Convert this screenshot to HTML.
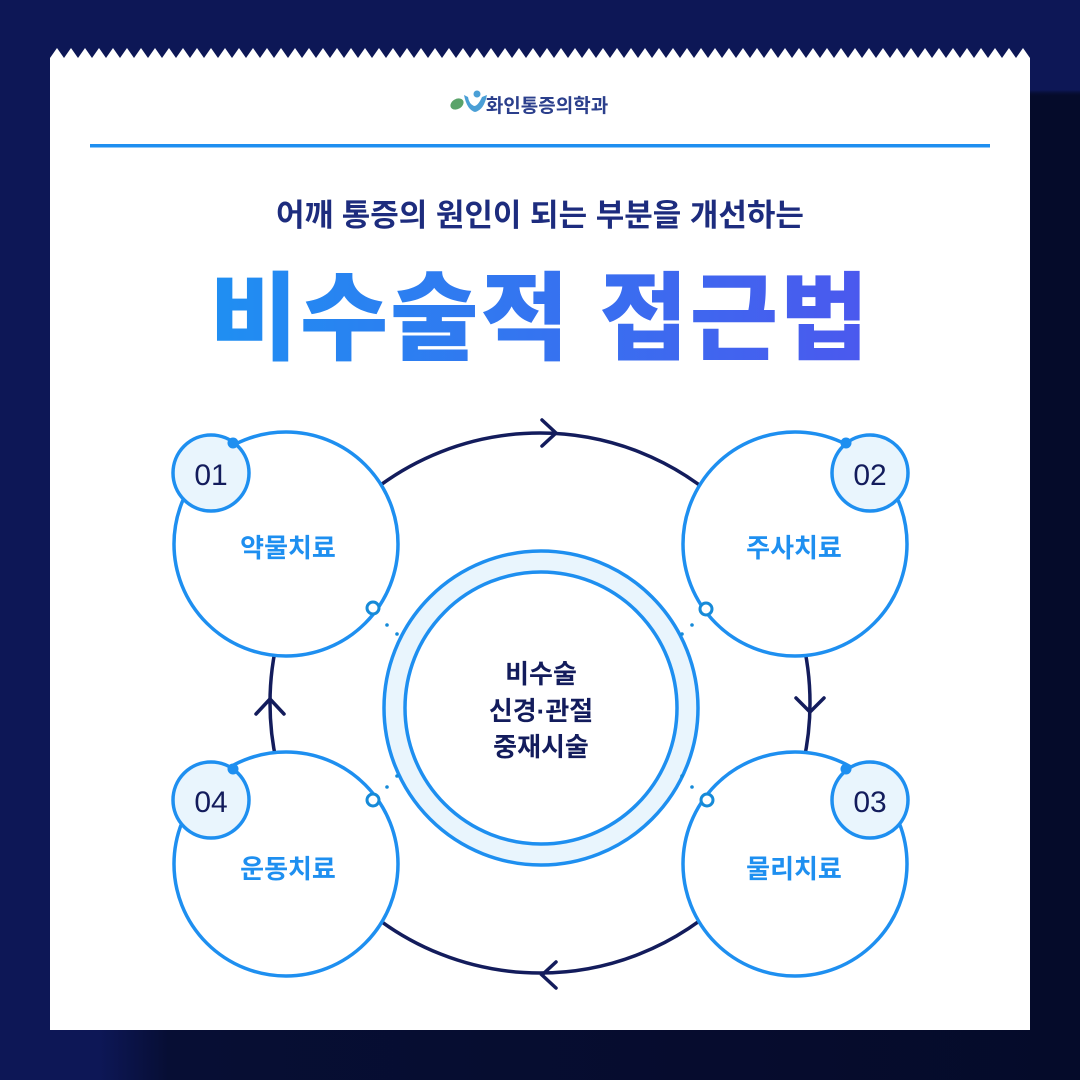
<!DOCTYPE html>
<html><head><meta charset="utf-8"><style>
html,body{margin:0;padding:0}
body{width:1080px;height:1080px;overflow:hidden;background:#0d1756;position:relative;font-family:"Liberation Sans","Noto Sans CJK KR",sans-serif}
svg{position:absolute;left:0;top:0}
</style></head><body>
<svg width="1080" height="1080" viewBox="0 0 1080 1080">
<defs>
<linearGradient id="g" x1="0" x2="1"><stop offset="0" stop-color="#1f8ff2"/><stop offset="1" stop-color="#4b58ee"/></linearGradient>
<linearGradient id="sh" x1="0" x2="1"><stop offset="0" stop-color="#0d1756"/><stop offset="0.07" stop-color="#070e34"/><stop offset="1" stop-color="#050b2a"/></linearGradient>
<linearGradient id="shv" x1="0" y1="0" x2="0" y2="1"><stop offset="0" stop-color="#0d1756"/><stop offset="0.06" stop-color="#070e34" stop-opacity="0"/></linearGradient>
<pattern id="zz" x="50" y="48" width="14" height="10" patternUnits="userSpaceOnUse"><path d="M0 10 L7 0 L14 10 Z" fill="#fff"/></pattern>
</defs>
<rect x="100" y="90" width="980" height="990" fill="url(#sh)"/>
<rect x="100" y="90" width="980" height="100" fill="url(#shv)"/>
<rect x="50" y="58" width="980" height="972" fill="#fff"/>
<rect x="50" y="48" width="980" height="10.5" fill="url(#zz)"/>
<rect x="90" y="144" width="900" height="3.5" fill="#1e8ff0"/>
<!-- logo -->
<ellipse cx="457" cy="104" rx="7" ry="5" fill="#5aa36a" transform="rotate(-30 457 104)"/>
<path d="M464 95 Q467 110 475 112 Q484 110 487 95 L482 97 Q478 106 474 106 Q469 104 468 97 Z" fill="#4a9fd6"/>
<circle cx="477" cy="94" r="3.5" fill="#4a9fd6"/>
<!-- big cycle -->
<circle cx="540" cy="703" r="270" fill="none" stroke="#131c5c" stroke-width="3.5"/>
<g fill="none" stroke="#131c5c" stroke-width="3.5" stroke-linecap="round">
<path d="M542 420 L556 433 L542 446"/>
<path d="M796 698 L810 712 L824 698"/>
<path d="M556 962 L542 975 L556 988"/>
<path d="M256 714 L270 699 L284 714"/>
</g>
<g fill="#fff" stroke="#1e8ff0" stroke-width="3.5">
<circle cx="286" cy="544" r="112"/>
<circle cx="795" cy="544" r="112"/>
<circle cx="795" cy="864" r="112"/>
<circle cx="286" cy="864" r="112"/>
</g>
<g fill="#e9f5fd" stroke="#1e8ff0" stroke-width="3.5">
<circle cx="211" cy="473" r="38"/>
<circle cx="870" cy="473" r="38"/>
<circle cx="870" cy="800" r="38"/>
<circle cx="211" cy="800" r="38"/>
</g>
<g fill="#1e8ff0"><circle cx="233" cy="443" r="5.5"/><circle cx="846" cy="443" r="5.5"/><circle cx="846" cy="769" r="5.5"/><circle cx="233" cy="769" r="5.5"/></g>
<circle cx="541" cy="708" r="147" fill="none" stroke="#e9f5fd" stroke-width="22"/>
<circle cx="541" cy="708" r="157" fill="none" stroke="#1e8ff0" stroke-width="3.5"/>
<circle cx="541" cy="708" r="136" fill="#fff" stroke="#1e8ff0" stroke-width="3.5"/>
<g fill="#fff" stroke="#168ad8" stroke-width="3"><circle cx="373" cy="608" r="6"/><circle cx="706" cy="609" r="6"/><circle cx="373" cy="800" r="6"/><circle cx="707" cy="800" r="6"/></g>
<g fill="#168ad8"><circle cx="387" cy="625" r="1.8"/><circle cx="397" cy="634" r="1.8"/><circle cx="692" cy="625" r="1.8"/><circle cx="682" cy="634" r="1.8"/><circle cx="387" cy="787" r="1.8"/><circle cx="397" cy="776" r="1.8"/><circle cx="692" cy="787" r="1.8"/><circle cx="682" cy="776" r="1.8"/></g>
<g font-family="Liberation Sans, Noto Sans CJK KR, sans-serif" text-anchor="middle">
<text x="211" y="485" font-size="30" fill="#131c5c">01</text>
<text x="870" y="485" font-size="30" fill="#131c5c">02</text>
<text x="870" y="812" font-size="30" fill="#131c5c">03</text>
<text x="211" y="812" font-size="30" fill="#131c5c">04</text>
<text x="288" y="557" font-size="26" font-weight="bold" fill="#1e8ff0">약물치료</text>
<text x="794" y="557" font-size="26" font-weight="bold" fill="#1e8ff0">주사치료</text>
<text x="794" y="878" font-size="26" font-weight="bold" fill="#1e8ff0">물리치료</text>
<text x="288" y="878" font-size="26" font-weight="bold" fill="#1e8ff0">운동치료</text>
<text x="541" y="683" font-size="26" font-weight="bold" fill="#131c5c">비수술</text>
<text x="541" y="720" font-size="26" font-weight="bold" fill="#131c5c">신경·관절</text>
<text x="541" y="756" font-size="26" font-weight="bold" fill="#131c5c">중재시술</text>
<text x="547" y="112" font-size="19" font-weight="bold" fill="#2b3f8c">화인통증의학과</text>
<text x="540" y="226" font-size="31" font-weight="bold" fill="#1d2c7e">어깨 통증의 원인이 되는 부분을 개선하는</text>
<text x="540" y="352" font-size="96" font-weight="900" fill="url(#g)" letter-spacing="2">비수술적 접근법</text>
</g>
</svg>
</body></html>
